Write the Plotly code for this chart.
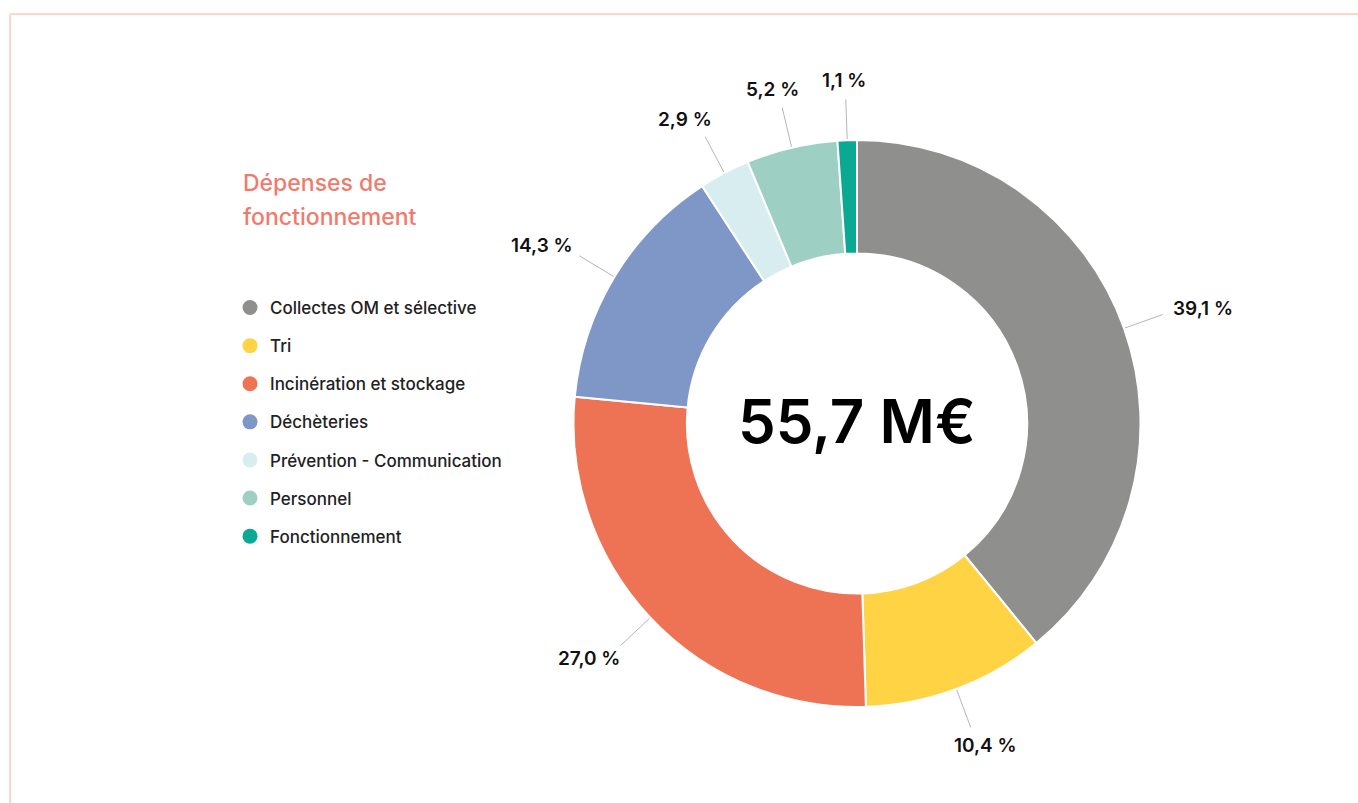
import math
import plotly.graph_objects as go

# data
labels = ["Collectes OM et sélective", "Tri", "Incinération et stockage", "Déchèteries",
          "Prévention - Communication", "Personnel", "Fonctionnement"]
values = [39.1, 10.4, 27.0, 14.3, 2.9, 5.2, 1.1]
colors = ["#8f8f8d", "#ffd343", "#ee7354", "#7f97c7", "#d8edf0", "#9dd0c3", "#0ba994"]
total_label = "55,7 M€"
title_lines = ["Dépenses de", "fonctionnement"]

W, H = 1358, 803
cx, cy, R = 857, 423.5, 283.5
FONT = "Inter"


def px(x):
    return x / W


def py(y):
    return 1 - y / H


fig = go.Figure()
fig.add_trace(go.Pie(
    labels=labels, values=values, sort=False, direction="clockwise", rotation=0,
    hole=0.6, marker=dict(colors=colors, line=dict(color="white", width=2)),
    textinfo="none", showlegend=False, hoverinfo="label+percent",
    domain=dict(x=[px(cx - R), px(cx + R)], y=[py(cy + R), py(cy - R)]),
))

# legend entries with round markers
for i, (lab, col) in enumerate(zip(labels, colors)):
    fig.add_trace(go.Scatter(x=[None], y=[None], mode="markers", name=lab,
                             legendgroup=str(i),
                             marker=dict(color=col, size=15)))

shapes = []
annotations = []
total = sum(values)
cum = 0
# approx half size of a label box + gap, used to push the text off the leader line
hw, hh = 43, 19
for v in values:
    mid = (cum + v / 2) / total * 2 * math.pi
    cum += v
    s, c = math.sin(mid), math.cos(mid)
    x0, y0 = cx + (R + 1) * s, cy - (R + 1) * c
    x1, y1 = cx + (R + 41) * s, cy - (R + 41) * c
    shapes.append(dict(type="line", xref="paper", yref="paper",
                       x0=px(x0), y0=py(y0), x1=px(x1), y1=py(y1),
                       line=dict(color="#b5b5b5", width=1)))
    tx, ty = x1 + s * hw, y1 - c * hh
    annotations.append(dict(
        x=px(tx), y=py(ty), xref="paper", yref="paper", showarrow=False,
        text=f"{v:.1f} %".replace(".", ","), xanchor="center", yanchor="middle",
        font=dict(family=FONT, size=19, color="#111111", weight=600)))

annotations.append(dict(x=px(cx), y=py(cy - 3), xref="paper", yref="paper", showarrow=False,
                        text=total_label, xanchor="center", yanchor="middle",
                        font=dict(family=FONT, size=60, color="#000000", weight=600)))
for k, line in enumerate(title_lines):
    annotations.append(dict(x=px(241), y=py(183 + 34 * k), xref="paper", yref="paper",
                            showarrow=False, text=line, xanchor="left", yanchor="middle",
                            font=dict(family=FONT, size=23, color="#f07b6d", weight=500)))

# light frame
shapes.append(dict(type="line", xref="paper", yref="paper", x0=px(10), y0=py(14), x1=1, y1=py(14),
                   line=dict(color="#fbd6d1", width=2)))
shapes.append(dict(type="line", xref="paper", yref="paper", x0=px(10), y0=py(14), x1=px(10), y1=0,
                   line=dict(color="#fbd6d1", width=2)))

fig.update_layout(
    width=W, height=H, margin=dict(l=0, r=0, t=0, b=0),
    paper_bgcolor="white", plot_bgcolor="white",
    xaxis=dict(visible=False), yaxis=dict(visible=False),
    shapes=shapes, annotations=annotations,
    legend=dict(x=px(230), y=py(290), xanchor="left", yanchor="top",
                font=dict(family=FONT, size=17, color="#222222", weight=500),
                tracegroupgap=13, itemclick=False),
)

fig.write_html("out.html", config={"displayModeBar": False},
               post_script="document.body.style.margin='0px';")
